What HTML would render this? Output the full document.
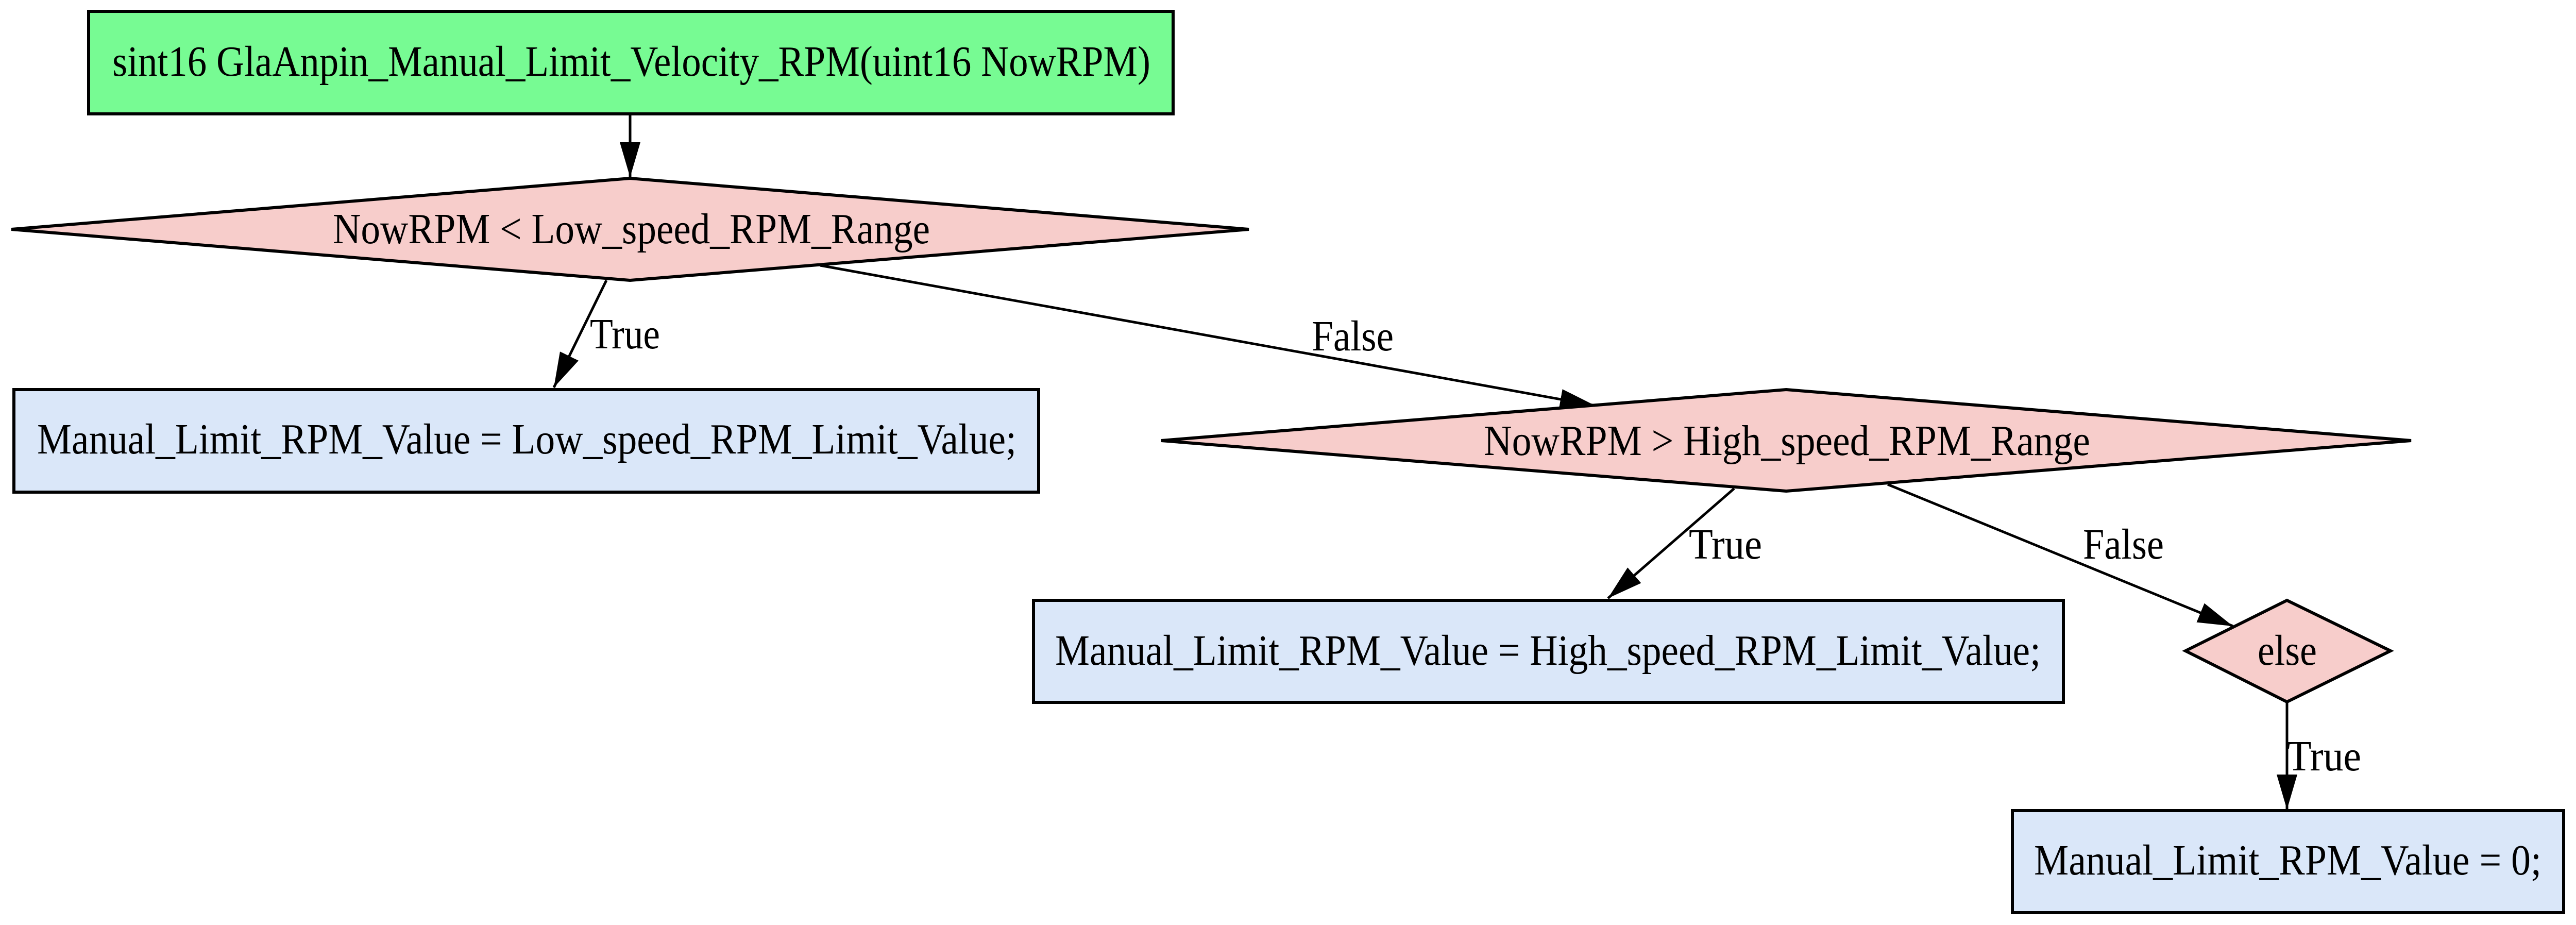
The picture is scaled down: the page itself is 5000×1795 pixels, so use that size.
<!DOCTYPE html>
<html><head><meta charset="utf-8"><style>html,body{margin:0;padding:0;background:#fff}svg{display:block}text{font-family:"Liberation Serif","Times New Roman",Times,serif;font-size:84px}</style></head>
<body>
<svg xmlns="http://www.w3.org/2000/svg" width="5000" height="1795" viewBox="0 0 5000 1795">
<defs>
<marker id="a" markerUnits="userSpaceOnUse" markerWidth="80" markerHeight="44" refX="68" refY="20" orient="auto">
<path d="M0,0 L68,20 L0,40 Z" fill="#000"/>
</marker>
</defs>
<g stroke="#000" stroke-width="6">
<rect x="172" y="22" width="2105" height="199" fill="#77fb93"/>
<polygon points="22,445 1223,346 2424,445 1223,544" fill="#f7cdcb"/>
<rect x="27" y="756" width="1989" height="199" fill="#dae7f9"/>
<polygon points="2254,855 3467,756 4680,855 3467,953" fill="#f7cdcb"/>
<rect x="2006" y="1165" width="1999" height="198" fill="#dae7f9"/>
<polygon points="4242,1263 4439,1165 4640,1263 4439,1362" fill="#f7cdcb"/>
<rect x="3906" y="1573" width="1070" height="198" fill="#dae7f9"/>
<g fill="none" stroke-width="5">
<line x1="1223" y1="221" x2="1223" y2="344" marker-end="url(#a)"/>
<line x1="1177" y1="544" x2="1075" y2="752" marker-end="url(#a)"/>
<line x1="1592" y1="515" x2="3096" y2="787" marker-end="url(#a)"/>
<line x1="3366" y1="948" x2="3121" y2="1161" marker-end="url(#a)"/>
<line x1="3664" y1="940" x2="4334" y2="1215" marker-end="url(#a)"/>
<line x1="4439" y1="1362" x2="4439" y2="1571" marker-end="url(#a)"/>
</g>
<g stroke="none" fill="#000">
<text x="218" y="147" textLength="2015" lengthAdjust="spacingAndGlyphs">sint16 GlaAnpin_Manual_Limit_Velocity_RPM(uint16 NowRPM)</text>
<text x="646" y="472" textLength="1159" lengthAdjust="spacingAndGlyphs">NowRPM &lt; Low_speed_RPM_Range</text>
<text x="72" y="880" textLength="1901" lengthAdjust="spacingAndGlyphs">Manual_Limit_RPM_Value = Low_speed_RPM_Limit_Value;</text>
<text x="1145" y="676" textLength="136" lengthAdjust="spacingAndGlyphs">True</text>
<text x="2546" y="680" textLength="159" lengthAdjust="spacingAndGlyphs">False</text>
<text x="2880" y="883" textLength="1177" lengthAdjust="spacingAndGlyphs">NowRPM &gt; High_speed_RPM_Range</text>
<text x="2048" y="1290" textLength="1913" lengthAdjust="spacingAndGlyphs">Manual_Limit_RPM_Value = High_speed_RPM_Limit_Value;</text>
<text x="4382" y="1290" textLength="115" lengthAdjust="spacingAndGlyphs">else</text>
<text x="3278" y="1084" textLength="142" lengthAdjust="spacingAndGlyphs">True</text>
<text x="4043" y="1084" textLength="157" lengthAdjust="spacingAndGlyphs">False</text>
<text x="4439" y="1495" textLength="144" lengthAdjust="spacingAndGlyphs">True</text>
<text x="3948" y="1697" textLength="985" lengthAdjust="spacingAndGlyphs">Manual_Limit_RPM_Value = 0;</text>
</g>
</g>
</svg>
</body></html>
